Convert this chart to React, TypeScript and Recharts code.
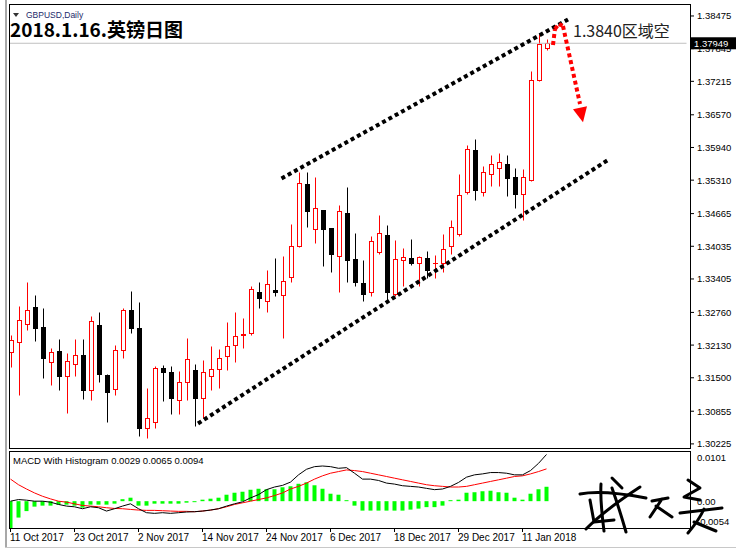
import React from 'react';
import { ComposedChart, Bar, Line, XAxis, YAxis, ReferenceLine, ReferenceDot } from 'recharts';

// GBPUSD daily, 11 Oct 2017 .. 16 Jan 2018
const openPx = [
  1.31991, 1.32184, 1.32531, 1.32865, 1.32479, 1.3181, 1.32016, 1.3154, 1.3176, 1.31939,
  1.31259, 1.32518, 1.31554, 1.31284, 1.3203, 1.32801, 1.32454, 1.30526, 1.30642, 1.31683,
  1.31606, 1.31077, 1.31413, 1.31644, 1.31116, 1.31529, 1.31669, 1.31914, 1.32132, 1.32325,
  1.32357, 1.33148, 1.3298, 1.33187, 1.33092, 1.33437, 1.34035, 1.35236, 1.34363, 1.34729,
  1.34382, 1.33842, 1.34677, 1.3379, 1.33327, 1.3316, 1.33931, 1.34253, 1.33109, 1.33776,
  1.33815, 1.33713, 1.33815, 1.33707, 1.33713, 1.34035, 1.34278, 1.35088, 1.35886, 1.35088,
  1.35435, 1.35539, 1.35616, 1.35371, 1.35037, 1.35307, 1.37235, 1.37852,
];
const highPx = [
  1.32325, 1.32884, 1.33352, 1.33096, 1.3284, 1.32068, 1.32248, 1.31977, 1.32248, 1.32248,
  1.32697, 1.32762, 1.31579, 1.32132, 1.32851, 1.33173, 1.32955, 1.31309, 1.31721, 1.31746,
  1.31721, 1.31631, 1.32261, 1.3176, 1.31849, 1.32107, 1.32055, 1.3257, 1.32762, 1.32647,
  1.33264, 1.33341, 1.33572, 1.33804, 1.33842, 1.34459, 1.35462, 1.35462, 1.35371, 1.34741,
  1.34394, 1.34831, 1.35178, 1.34291, 1.33771, 1.34233, 1.34638, 1.34446, 1.34162, 1.34008,
  1.34176, 1.33842, 1.33944, 1.33867, 1.34266, 1.34548, 1.35435, 1.35988, 1.36104, 1.35589,
  1.35795, 1.35834, 1.35795, 1.3555, 1.35525, 1.37415, 1.38134, 1.38032,
];
const lowPx = [
  1.31714, 1.31168, 1.32421, 1.32209, 1.31501, 1.31361, 1.3127, 1.30821, 1.3154, 1.31097,
  1.31066, 1.31424, 1.30653, 1.31168, 1.31875, 1.32369, 1.30383, 1.30345, 1.30537, 1.31052,
  1.30807, 1.30807, 1.31077, 1.30576, 1.30719, 1.3127, 1.31309, 1.31656, 1.3181, 1.32068,
  1.32325, 1.32845, 1.32768, 1.33067, 1.32267, 1.33352, 1.3403, 1.34413, 1.34104, 1.33661,
  1.33545, 1.3316, 1.33341, 1.33275, 1.32986, 1.33083, 1.33892, 1.3298, 1.33083, 1.33275,
  1.33674, 1.33275, 1.33418, 1.3343, 1.33534, 1.33892, 1.34239, 1.35049, 1.34922, 1.3501,
  1.35203, 1.35203, 1.3501, 1.34779, 1.34548, 1.353, 1.3723, 1.37814,
];
const closePx = [
  1.32223, 1.32608, 1.32801, 1.32465, 1.31887, 1.31991, 1.3154, 1.31823, 1.31939, 1.3127,
  1.32595, 1.31579, 1.31232, 1.3203, 1.32801, 1.32465, 1.30537, 1.30719, 1.31683, 1.31617,
  1.31104, 1.31413, 1.31862, 1.31104, 1.31617, 1.31669, 1.31887, 1.32119, 1.323, 1.32344,
  1.33206, 1.33044, 1.33314, 1.3316, 1.33356, 1.34035, 1.3525, 1.34721, 1.34768, 1.34374,
  1.33881, 1.3471, 1.33765, 1.33352, 1.33121, 1.34137, 1.34285, 1.3316, 1.3379, 1.33829,
  1.33713, 1.33829, 1.33572, 1.33719, 1.33983, 1.34407, 1.35024, 1.35911, 1.35126, 1.35473,
  1.35627, 1.35654, 1.35358, 1.35037, 1.35371, 1.37247, 1.37929, 1.37949,
];

const macdLine = [
  0, 0.00033, 0.0002, 0, 0, -0.0002, -0.00066, -0.00099, -0.00113, -0.00152,
  -0.00113, -0.00132, -0.00199, -0.00152, -0.00099, -0.00053, -0.00152, -0.00232, -0.00245, -0.00232,
  -0.00245, -0.00232, -0.00218, -0.00212, -0.00199, -0.00179, -0.00152, -0.00099, -0.00053, -0.00013,
  0.00066, 0.00132, 0.00232, 0.00285, 0.00318, 0.00384, 0.0053, 0.00642, 0.00695, 0.00708,
  0.00695, 0.00662, 0.00675, 0.00563, 0.00444, 0.00444, 0.00417, 0.00364, 0.00344, 0.00311,
  0.00298, 0.00285, 0.00258, 0.00232, 0.00245, 0.00298, 0.00377, 0.00483, 0.0053, 0.00549,
  0.00576, 0.00576, 0.00563, 0.0053, 0.0053, 0.00616, 0.00761, 0.0094,
];
const signalLine = [
  0.00444, 0.00331, 0.00245, 0.00166, 0.00099, 0.00046, 0, -0.0002, -0.00053, -0.00086,
  -0.00099, -0.00113, -0.00132, -0.00146, -0.00152, -0.00166, -0.00179, -0.00185, -0.00185, -0.00192,
  -0.00199, -0.00205, -0.00205, -0.00212, -0.00199, -0.00179, -0.00152, -0.00113, -0.00066, -0.00033,
  0, 0.00033, 0.00066, 0.00113, 0.00166, 0.00245, 0.00298, 0.00364, 0.00444, 0.0051,
  0.00563, 0.00596, 0.00629, 0.00616, 0.00596, 0.00563, 0.0053, 0.00497, 0.00463, 0.0043,
  0.00397, 0.00364, 0.00331, 0.00311, 0.00298, 0.00285, 0.00285, 0.00298, 0.00331, 0.00364,
  0.00397, 0.0043, 0.00463, 0.00497, 0.0051, 0.00549, 0.00596, 0.0065,
];
const histogram = [
  -0.0054, -0.0033, -0.002, -0.0011, -0.0009, -0.0009, -0.0007, -0.0007, -0.0009, -0.0013,
  -0.0007, -0.0007, -0.0007, -0.0005, 0.0004, 0.0007, -0.0009, -0.0009, -0.0005, -0.0005,
  -0.0005, -0.0005, -0.0003, -0.0002, 0.0003, 0.0005, 0.0007, 0.0013, 0.0017, 0.0019,
  0.0023, 0.0025, 0.0024, 0.0024, 0.0028, 0.003, 0.0035, 0.0038, 0.0032, 0.0025,
  0.0015, 0.0013, 0.0002, -0.0009, -0.0019, -0.0019, -0.0019, -0.0019, -0.0019, -0.0019,
  -0.0017, -0.0015, -0.0012, -0.0012, -0.0009, 0.0002, 0.0003, 0.0017, 0.0018, 0.002,
  0.0021, 0.0018, 0.0017, 0.0007, 0.0003, 0.0015, 0.0024, 0.0029,
];

const tickIdx = [0, 8, 16, 24, 32, 40, 48, 56, 64];
const tickLabels = [
  '11 Oct 2017', '23 Oct 2017', '2 Nov 2017', '14 Nov 2017', '24 Nov 2017',
  '6 Dec 2017', '18 Dec 2017', '29 Dec 2017', '11 Jan 2018',
];
const priceTicks = [
  1.38475, 1.37845, 1.37215, 1.3657, 1.3594, 1.3531, 1.34665, 1.34035,
  1.33405, 1.3276, 1.3213, 1.315, 1.30855, 1.30225,
];
const macdTicks = [0.0101, 0, -0.0054];
const macdTickLabels = ['0.0101', '0.00', '-0.0054'];
const lastPrice = 1.37949;

// hand drawn annotations, in (bar index, price)
const upperChannel = [{ x: 33.875, y: 1.35342 }, { x: 69.69, y: 1.38408 }];
const lowerChannel = [{ x: 23.44, y: 1.30618 }, { x: 74.69, y: 1.35699 }];
const arrowPath = [
  { x: 67.81, y: 1.37916 },
  { x: 68.06, y: 1.38224 },
  { x: 68.56, y: 1.38321 },
  { x: 69.06, y: 1.38282 },
  { x: 71.19, y: 1.36778 },
];
const arrowHead = { x: 71.31, y: 1.36618 };

const SLOTS = 85; // bars + empty space on the right like MT4

const priceRows = Array.from({ length: SLOTS }, (_, i) =>
  i < openPx.length
    ? { i, range: [lowPx[i], highPx[i]], o: openPx[i], h: highPx[i], l: lowPx[i], c: closePx[i] }
    : { i }
);
const macdRows = Array.from({ length: SLOTS }, (_, i) =>
  i < histogram.length ? { i, hist: histogram[i], macd: macdLine[i], signal: signalLine[i] } : { i }
);

const FONT = "'Liberation Sans', Arial, sans-serif";
const snap = (v: number) => Math.round(v) + 0.5;

const Candle = (props: any) => {
  const { x, y, width, height, payload } = props;
  if (!payload || payload.o == null) return null;
  const top = Math.min(y, y + height);
  const bot = Math.max(y, y + height);
  const { o, h, l, c } = payload;
  const toY = (v: number) => top + ((h - v) / (h - l)) * (bot - top);
  const cx = Math.floor(x + width / 2) + 0.5;
  const yH = snap(toY(h));
  const yL = snap(toY(l));
  const yO = snap(toY(o));
  const yC = snap(toY(c));
  if (c >= o) {
    return (
      <g>
        <line x1={cx} x2={cx} y1={yH} y2={yC} stroke="#ff0000" />
        <line x1={cx} x2={cx} y1={yO} y2={yL} stroke="#ff0000" />
        {yO - yC < 1 ? (
          <line x1={cx - 2.5} x2={cx + 2.5} y1={yC} y2={yC} stroke="#ff0000" />
        ) : (
          <rect x={cx - 2} y={yC} width={4} height={yO - yC} fill="#fff" stroke="#ff0000" />
        )}
      </g>
    );
  }
  return (
    <g>
      <line x1={cx} x2={cx} y1={yH} y2={yL} stroke="#000" />
      <rect x={cx - 2.5} y={yO - 0.5} width={5} height={Math.max(1, yC - yO + 1)} fill="#000" />
    </g>
  );
};

const PriceTick = (props: any) => {
  const { x, y, payload } = props;
  return (
    <g>
      <line x1={x + 3.5} x2={x + 7.5} y1={y} y2={y} stroke="#000" />
      <text x={x + 10.5} y={y} dy={3.5} fontSize={9.5} fontFamily={FONT} fill="#000" textAnchor="start">
        {payload.value.toFixed(5)}
      </text>
    </g>
  );
};

const MacdTick = (props: any) => {
  const { x, y, payload, index } = props;
  const shift = index === 0 ? 6 : index === macdTicks.length - 1 ? -7 : 0;
  return (
    <text x={x + 10.5} y={y + shift} dy={3.5} fontSize={9.5} fontFamily={FONT} fill="#000" textAnchor="start">
      {macdTickLabels[macdTicks.indexOf(payload.value)]}
    </text>
  );
};

const DateTick = (props: any) => {
  const { x, y, payload } = props;
  const k = tickIdx.indexOf(payload.value);
  if (k < 0) return <g />;
  return (
    <g>
      <line x1={x} x2={x} y1={y} y2={y + 4} stroke="#000" />
      <text x={x - 0.5} y={y + 12.5} fontSize={10} fontFamily={FONT} fill="#000" textAnchor="start">
        {tickLabels[k]}
      </text>
    </g>
  );
};

const LastPriceLabel = (props: any) => {
  const { viewBox } = props;
  const x = viewBox.x + viewBox.width + 4.5;
  return (
    <g>
      <rect x={x} y={viewBox.y - 6} width={45} height={12} fill="#000" />
      <text x={x + 3} y={viewBox.y} dy={3.5} fontSize={9.5} fontFamily={FONT} fill="#fff">
        {lastPrice.toFixed(5)}
      </text>
    </g>
  );
};

const ArrowHead = (props: any) => {
  const { cx, cy } = props;
  return <polygon points={`${cx - 8},${cy - 3} ${cx + 6},${cy - 6} ${cx + 2},${cy + 10}`} fill="#ff0000" />;
};

const App: React.FC = () => {
  return (
    <div
      style={{
        position: 'absolute',
        left: 0,
        top: 0,
        width: 739,
        height: 556,
        background: '#fff',
        overflow: 'hidden',
        fontFamily: FONT,
      }}
    >
      <div style={{ position: 'absolute', left: 0, top: 0 }}>
        <ComposedChart
          width={739}
          height={452}
          data={priceRows}
          margin={{ top: 4, right: 2, bottom: 4, left: 6.5 }}
          barCategoryGap={0}
          barGap={0}
        >
          <XAxis xAxisId="cat" dataKey="i" type="category" hide />
          <XAxis xAxisId="num" dataKey="i" type="number" domain={[-0.5, SLOTS - 0.5]} allowDataOverflow hide />
          <YAxis
            orientation="right"
            width={50.5}
            domain={[1.30146, 1.38706]}
            allowDataOverflow
            ticks={priceTicks}
            interval={0}
            axisLine={false}
            tickLine={false}
            tickSize={0}
            tickMargin={0}
            tick={<PriceTick />}
          />
          <ReferenceLine xAxisId="num" y={lastPrice} stroke="#c0c0c0" label={<LastPriceLabel />} />
          <Bar xAxisId="cat" dataKey="range" barSize={5} shape={(p: any) => <Candle {...p} />} isAnimationActive={false} />
          <ReferenceLine xAxisId="num" segment={upperChannel} stroke="#000" strokeWidth={4} strokeDasharray="4 3.2" />
          <ReferenceLine xAxisId="num" segment={lowerChannel} stroke="#000" strokeWidth={4} strokeDasharray="4 3.2" />
          {arrowPath.slice(1).map((pt, k) => (
            <ReferenceLine
              key={`arr-${k}`}
              xAxisId="num"
              segment={[arrowPath[k], pt]}
              stroke="#ff0000"
              strokeWidth={4}
              strokeDasharray="4 3"
            />
          ))}
          <ReferenceDot xAxisId="num" x={arrowHead.x} y={arrowHead.y} r={8} shape={(p: any) => <ArrowHead {...p} />} />
        </ComposedChart>
      </div>

      <div style={{ position: 'absolute', left: 0, top: 440 }}>
        <ComposedChart
          width={739}
          height={116}
          data={macdRows}
          margin={{ top: 11, right: 2, bottom: 8, left: 6.5 }}
          barCategoryGap={0}
        >
          <XAxis
            dataKey="i"
            type="category"
            height={20}
            interval={7}
            axisLine={false}
            tickLine={false}
            tickSize={0}
            tickMargin={0}
            tick={<DateTick />}
          />
          <YAxis
            orientation="right"
            width={50.5}
            domain={[-0.0054, 0.0101]}
            allowDataOverflow
            ticks={macdTicks}
            interval={0}
            axisLine={false}
            tickLine={false}
            tickSize={0}
            tickMargin={0}
            tick={<MacdTick />}
          />
          <Bar dataKey="hist" fill="#00ff00" barSize={4} isAnimationActive={false} />
          <Line dataKey="signal" stroke="#ff0000" strokeWidth={1} dot={false} isAnimationActive={false} />
          <Line dataKey="macd" stroke="#000" strokeWidth={1} dot={false} isAnimationActive={false} />
        </ComposedChart>
      </div>

      {/* MT4 window frame and panel borders */}
      <div style={{ position: 'absolute', left: 0, top: 0, width: 9, height: 556, background: '#fff' }} />
      <div style={{ position: 'absolute', left: 5, top: 0, width: 2, height: 548, background: '#a8a8a8' }} />
      <div style={{ position: 'absolute', left: 5, top: 547, width: 731, height: 1, background: '#c8c8c8' }} />
      <div
        style={{
          position: 'absolute', left: 9, top: 4, width: 682, height: 445,
          border: '1px solid #000', boxSizing: 'border-box',
        }}
      />
      <div
        style={{
          position: 'absolute', left: 9, top: 451, width: 682, height: 78,
          border: '1px solid #000', boxSizing: 'border-box',
        }}
      />

      {/* labels */}
      <div
        style={{
          position: 'absolute', left: 13, top: 13, width: 0, height: 0,
          borderLeft: '3px solid transparent', borderRight: '3px solid transparent', borderTop: '4px solid #333',
        }}
      />
      <div style={{ position: 'absolute', left: 26, top: 10, fontSize: 8.5, lineHeight: '10px', color: '#1c2a6a' }}>
        GBPUSD,Daily
      </div>
      <div
        style={{
          position: 'absolute', left: 10, top: 18, fontSize: 19, lineHeight: '22px', fontWeight: 700,
          color: '#000', fontFamily: "'Noto Sans CJK SC', sans-serif",
        }}
      >
        2018.1.16.英镑日图
      </div>
      <div
        style={{
          position: 'absolute', left: 573, top: 20, fontSize: 16, lineHeight: '20px',
          color: '#222', fontFamily: "'Noto Sans CJK SC', sans-serif",
        }}
      >
        1.3840区域空
      </div>
      <div style={{ position: 'absolute', left: 13, top: 455, fontSize: 9.5, lineHeight: '11px', color: '#000' }}>
        MACD With Histogram 0.0029 0.0065 0.0094
      </div>

      {/* handwritten signature */}
      <svg width={739} height={556} style={{ position: 'absolute', left: 0, top: 0, pointerEvents: 'none' }}>
        <g fill="none" stroke="#000" strokeWidth={3} strokeLinecap="round" strokeLinejoin="round">
          <path d="M580,494 C600,490 625,494 646,498" />
          <path d="M601,484 C600,500 602,515 604,531" />
          <path d="M612,488 C618,505 622,518 626,532" />
          <path d="M586,529 C600,515 620,500 640,487" />
          <path d="M590,500 L594,522 L614,520" />
          <path d="M612,478 L622,488" />
          <path d="M652,501 L668,498 M662,499 L650,517 M656,506 L672,517" />
          <path d="M688,480 L700,488 L684,497 L700,500" />
          <path d="M680,513 L722,508" />
          <path d="M704,509 C700,518 694,526 688,533" />
          <path d="M694,522 L716,531" />
        </g>
      </svg>
    </div>
  );
};

export default App;
